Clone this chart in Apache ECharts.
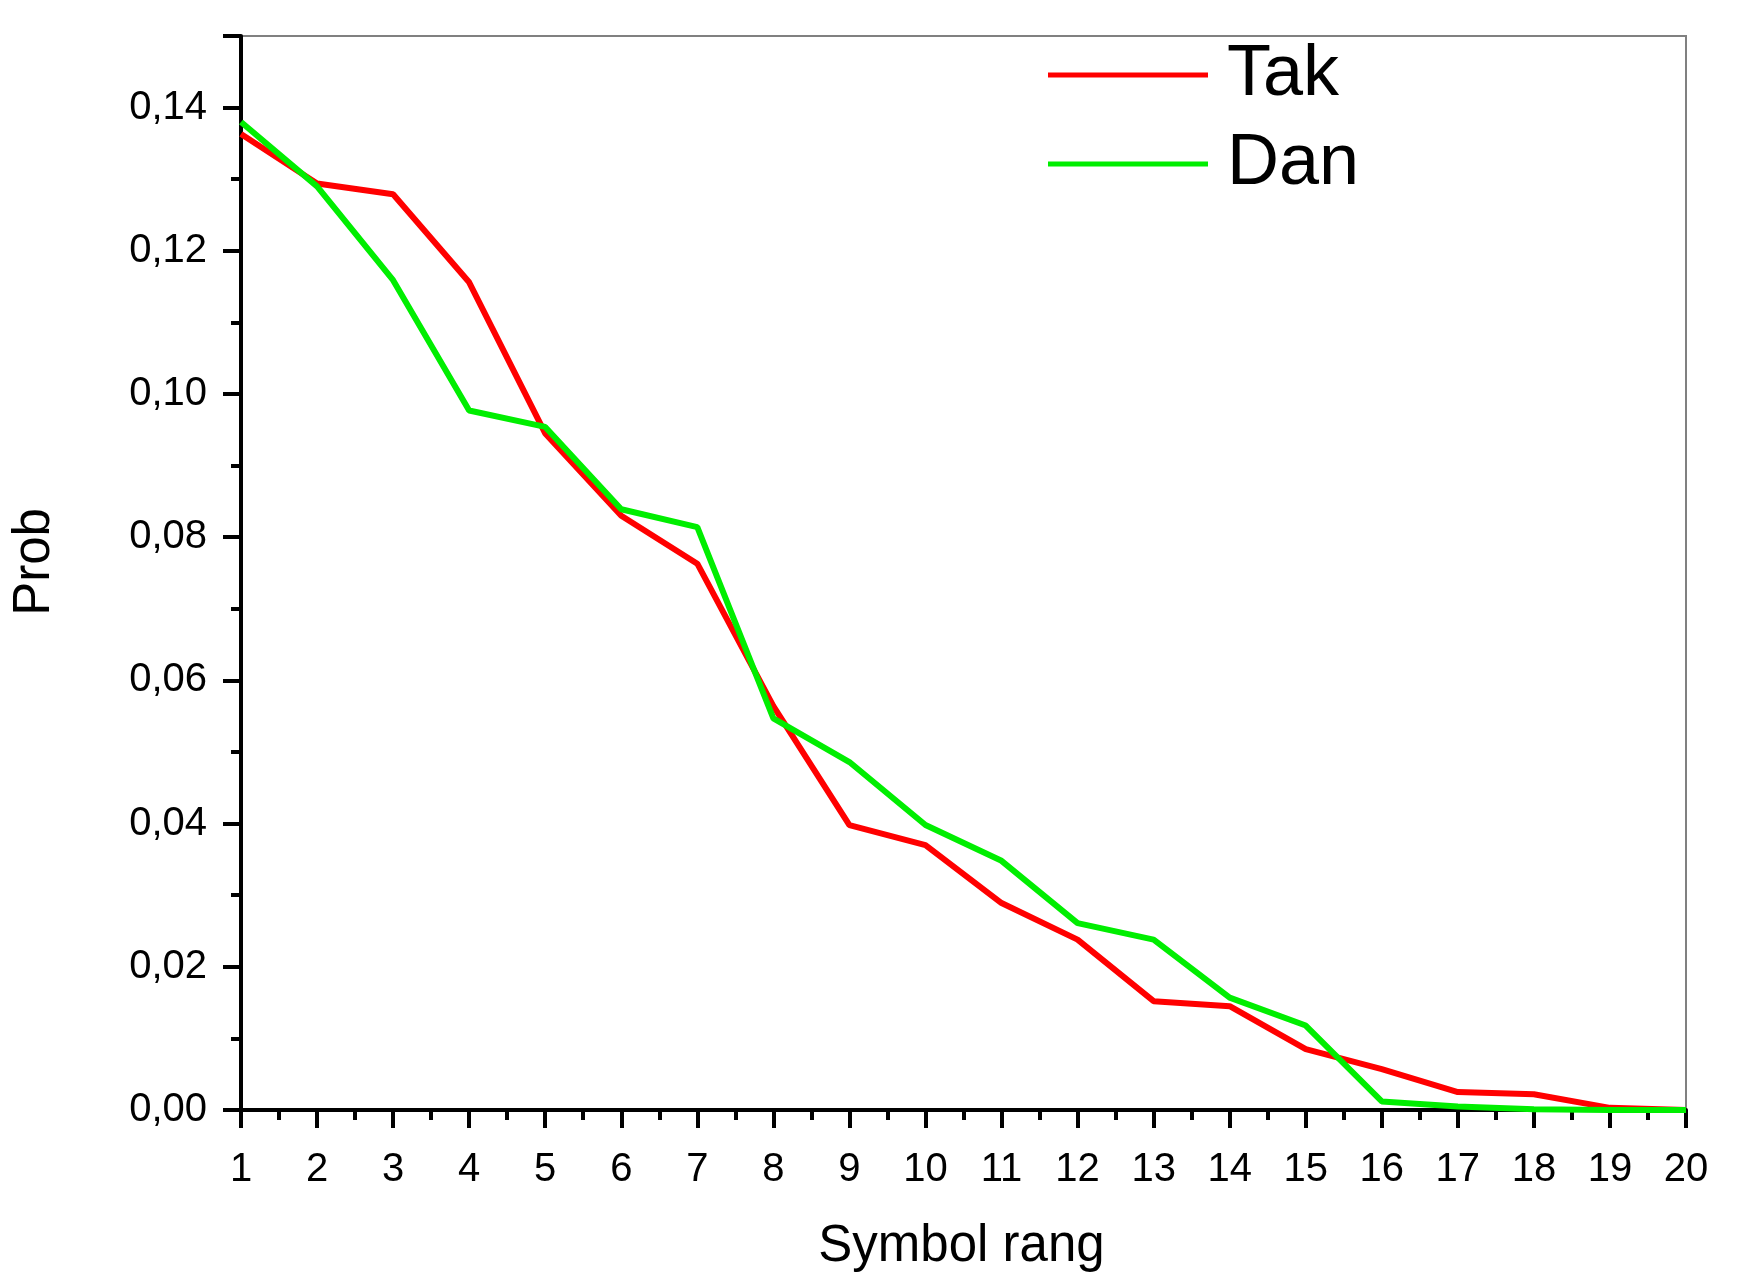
<!DOCTYPE html>
<html>
<head>
<meta charset="utf-8">
<script src="https://cdn.jsdelivr.net/npm/echarts@6/dist/echarts.min.js"></script>
<style>html,body{margin:0;padding:0;background:#fff;}#c{width:1744px;height:1288px;}</style>
</head>
<body>
<div id="c"></div>
<script>
const ranks = [1,2,3,4,5,6,7,8,9,10,11,12,13,14,15,16,17,18,19,20];
const takValues = [0.1363,0.1294,0.1279,0.1156,0.0945,0.0830,0.0763,0.0564,0.0398,0.0370,0.0289,0.0238,0.0152,0.0145,0.0085,0.0057,0.0025,0.0022,0.0003,0.0000];
const danValues = [0.1380,0.1290,0.1159,0.0977,0.0954,0.0839,0.0814,0.0547,0.0486,0.0398,0.0348,0.0261,0.0238,0.0157,0.0118,0.0012,0.0005,0.0001,0.0000,0.0000];
const seriesNames = ['Tak','Dan'];

const chart = echarts.init(document.getElementById('c'));
const font = 'Liberation Sans, Arial, sans-serif';
chart.setOption({
  backgroundColor: '#fff',
  animation: false,
  grid: {left: 241, right: 58, top: 36, bottom: 178, show: true, borderColor: '#808080', borderWidth: 2, backgroundColor: 'transparent'},
  legend: {
    orient: 'vertical', left: 1043, top: 30,
    itemWidth: 160, itemHeight: 5, itemGap: 9,
    icon: 'rect',
    textStyle: {fontFamily: font, fontSize: 72, color: '#000', lineHeight: 80, padding: [0,0,0,14]},
    data: seriesNames
  },
  xAxis: {
    type: 'value', min: 1, max: 20, interval: 1,
    name: 'Symbol rang', nameLocation: 'middle', nameGap: 111,
    nameTextStyle: {fontFamily: font, fontSize: 51, color: '#000', padding: [0,4,0,0]},
    axisLine: {show: true, onZero: false, lineStyle: {color: '#000', width: 4}},
    axisTick: {show: true, length: 18, lineStyle: {color: '#000', width: 4}},
    minorTick: {show: true, splitNumber: 2, length: 10, lineStyle: {color: '#000', width: 4}},
    splitLine: {show: false},
    axisLabel: {fontFamily: font, fontSize: 40, color: '#000', margin: 40}
  },
  yAxis: {
    type: 'value', min: 0, max: 0.15, interval: 0.02,
    name: 'Prob', nameLocation: 'middle', nameGap: 181,
    nameTextStyle: {fontFamily: font, fontSize: 51, color: '#000', padding: [0,0,0,22]},
    axisLine: {show: true, lineStyle: {color: '#000', width: 4}},
    axisTick: {show: true, length: 18, lineStyle: {color: '#000', width: 4}},
    minorTick: {show: true, splitNumber: 2, length: 10, lineStyle: {color: '#000', width: 4}},
    splitLine: {show: false},
    axisLabel: {fontFamily: font, fontSize: 40, color: '#000', margin: 34, showMaxLabel: false,
      formatter: v => v.toFixed(2).replace('.', ',')}
  },
  series: [
    {name: seriesNames[0], type: 'line', data: ranks.map((r,i)=>[r, takValues[i]]), showSymbol: false, symbol: 'none',
     lineStyle: {color: '#ff0000', width: 6}, itemStyle: {color: '#ff0000'}, z: 3},
    {name: seriesNames[1], type: 'line', data: ranks.map((r,i)=>[r, danValues[i]]), showSymbol: false, symbol: 'none',
     lineStyle: {color: '#00ee00', width: 6}, itemStyle: {color: '#00ee00'}, z: 4}
  ]
});
</script>
</body>
</html>
